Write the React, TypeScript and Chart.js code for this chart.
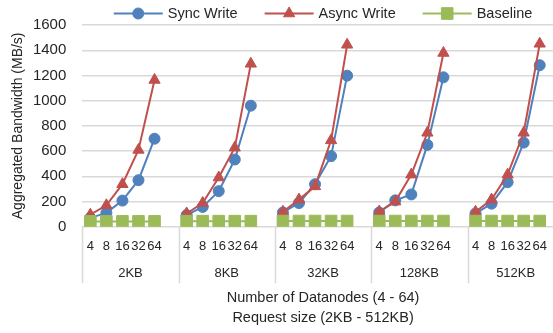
import React, { useEffect, useRef } from 'react';
import { Chart, registerables } from 'chart.js';
import { drawPoint } from 'chart.js/helpers';

Chart.register(...registerables);

// ---------- data ----------
const groups = ['2KB', '8KB', '32KB', '128KB', '512KB'];
const nodes = ['4', '8', '16', '32', '64'];

const syncWrite2KB = [70, 110, 207, 369, 698];
const syncWrite8KB = [92, 157, 282, 533, 960];
const syncWrite32KB = [113, 188, 337, 560, 1198];
const syncWrite128KB = [113, 209, 256, 649, 1185];
const syncWrite512KB = [105, 183, 353, 667, 1281];

const asyncWrite2KB = [95, 170, 337, 609, 1164];
const asyncWrite8KB = [105, 188, 390, 627, 1292];
const asyncWrite32KB = [118, 215, 320, 685, 1443];
const asyncWrite128KB = [120, 199, 413, 745, 1378];
const asyncWrite512KB = [118, 215, 413, 745, 1451];

const baseline2KB = [42, 42, 42, 42, 42];
const baseline8KB = [44, 44, 44, 44, 44];
const baseline32KB = [45, 45, 45, 45, 45];
const baseline128KB = [45, 45, 45, 45, 45];
const baseline512KB = [45, 45, 45, 45, 45];

const yMax = 1600;
const yStep = 200;

const xTitle = ['Number of Datanodes (4 - 64)', 'Request size (2KB - 512KB)'];
const yTitle = 'Aggregated Bandwidth (MB/s)';

// ---------- styles ----------
const FONT = "'Liberation Sans', Arial, sans-serif";
const TEXT = '#262626';
const GRID = '#d9d9d9';
const BLUE = '#4F81BD';
const RED = '#C0504D';
const GREEN = '#9BBB59';

const PER_GROUP = nodes.length + 1; // one empty slot closes every group

const flatten = (rows: number[][]) =>
  rows.flatMap((r) => [...r, null] as (number | null)[]);

const labels = groups.flatMap(() => [...nodes, '']);

const decorPlugin = {
  id: 'decor',
  afterDraw(chart: any) {
    const { ctx, chartArea, scales } = chart;
    const x = scales.x;
    ctx.save();
    // group separators
    ctx.strokeStyle = GRID;
    ctx.lineWidth = 1.5;
    for (let g = 0; g <= groups.length; g++) {
      const px = Math.round(x.getPixelForValue(g * PER_GROUP - 0.5)) + 0.5;
      ctx.beginPath();
      ctx.moveTo(px, chartArea.bottom);
      ctx.lineTo(px, chartArea.bottom + 56.5);
      ctx.stroke();
    }
    // group labels
    ctx.fillStyle = TEXT;
    ctx.font = `13px ${FONT}`;
    ctx.textAlign = 'center';
    ctx.textBaseline = 'middle';
    groups.forEach((name, g) => {
      ctx.fillText(name, x.getPixelForValue(g * PER_GROUP + 2.5), chartArea.bottom + 46.5);
    });
    // legend (line + marker + text)
    ctx.font = `14.5px ${FONT}`;
    const lineLen = 49;
    const textGap = 5;
    const itemGap = 27;
    const ds = chart.data.datasets;
    const widths = ds.map((d: any) => lineLen + textGap + ctx.measureText(d.label).width);
    const total = widths.reduce((a: number, b: number) => a + b, 0) + itemGap * (ds.length - 1);
    let lx = (chartArea.left + chartArea.right) / 2 - total / 2;
    const ly = 13.5;
    ds.forEach((d: any, i: number) => {
      ctx.strokeStyle = d.borderColor;
      ctx.lineWidth = d.borderWidth;
      ctx.beginPath();
      ctx.moveTo(lx, ly);
      ctx.lineTo(lx + lineLen, ly);
      ctx.stroke();
      ctx.fillStyle = d.pointBackgroundColor;
      ctx.strokeStyle = d.pointBorderColor;
      ctx.lineWidth = 1;
      drawPoint(ctx, { pointStyle: d.pointStyle, radius: d.pointRadius, borderWidth: 1, rotation: 0 }, lx + lineLen / 2, ly);
      ctx.fillStyle = TEXT;
      ctx.textAlign = 'left';
      ctx.fillText(d.label, lx + lineLen + textGap, ly);
      lx += widths[i] + itemGap;
    });
    ctx.restore();
  },
};

export default function App() {
  const ref = useRef<HTMLCanvasElement>(null);

  useEffect(() => {
    if (!ref.current) return;
    Chart.defaults.font.family = FONT;
    Chart.defaults.font.size = 14;
    Chart.defaults.color = TEXT;

    const chart = new Chart(ref.current, {
      type: 'line',
      data: {
        labels,
        datasets: [
          {
            label: 'Sync Write',
            data: flatten([syncWrite2KB, syncWrite8KB, syncWrite32KB, syncWrite128KB, syncWrite512KB]),
            borderColor: BLUE,
            backgroundColor: BLUE,
            pointBackgroundColor: BLUE,
            pointBorderColor: BLUE,
            borderWidth: 2,
            pointStyle: 'circle',
            pointRadius: 5.5,
            pointBorderWidth: 1,
            spanGaps: false,
            order: 3,
          },
          {
            label: 'Async Write',
            data: flatten([asyncWrite2KB, asyncWrite8KB, asyncWrite32KB, asyncWrite128KB, asyncWrite512KB]),
            borderColor: RED,
            backgroundColor: RED,
            pointBackgroundColor: RED,
            pointBorderColor: RED,
            borderWidth: 2,
            pointStyle: 'triangle',
            pointRadius: 6.5,
            pointBorderWidth: 1,
            spanGaps: false,
            order: 2,
          },
          {
            label: 'Baseline',
            data: flatten([baseline2KB, baseline8KB, baseline32KB, baseline128KB, baseline512KB]),
            borderColor: GREEN,
            backgroundColor: GREEN,
            pointBackgroundColor: GREEN,
            pointBorderColor: GREEN,
            borderWidth: 2,
            pointStyle: 'rect',
            pointRadius: 8.2,
            pointBorderWidth: 1,
            spanGaps: false,
            order: 1,
          },
        ] as any,
      },
      options: {
        animation: false,
        responsive: true,
        maintainAspectRatio: false,
        layout: { padding: { left: 0, right: 0.7, top: 22.7, bottom: 0 } },
        plugins: { legend: { display: false }, tooltip: { enabled: false } },
        scales: {
          x: {
            type: 'category',
            offset: true,
            grid: { display: false, drawTicks: false },
            border: { display: false },
            ticks: {
              autoSkip: false,
              maxRotation: 0,
              minRotation: 0,
              padding: 12,
              color: TEXT,
              font: { size: 13 },
            },
            title: {
              display: true,
              text: xTitle,
              color: TEXT,
              font: { size: 14.5, lineHeight: 1.35 },
              padding: { top: 0, bottom: 5.2 },
            },
            afterFit: (s: any) => {
              s.height = 106.3;
            },
          },
          y: {
            min: 0,
            max: yMax,
            grid: { color: GRID, lineWidth: 1.4, drawTicks: false },
            border: { display: false },
            ticks: {
              stepSize: yStep,
              padding: 16,
              color: TEXT,
              font: { size: 15 },
              callback: (v: any) => String(v),
            },
            title: {
              display: true,
              text: yTitle,
              color: TEXT,
              font: { size: 14 },
              padding: { top: 10, bottom: 0 },
            },
            afterFit: (s: any) => {
              s.width = 82.3;
            },
          },
        },
      },
      plugins: [decorPlugin],
    });
    return () => chart.destroy();
  }, []);

  return (
    <div style={{ position: 'fixed', left: 0, top: 0, width: 553, height: 333, overflow: 'hidden', background: '#fff' }}>
      <div style={{ position: 'relative', width: 573, height: 333 }}>
        <canvas ref={ref} />
      </div>
    </div>
  );
}
